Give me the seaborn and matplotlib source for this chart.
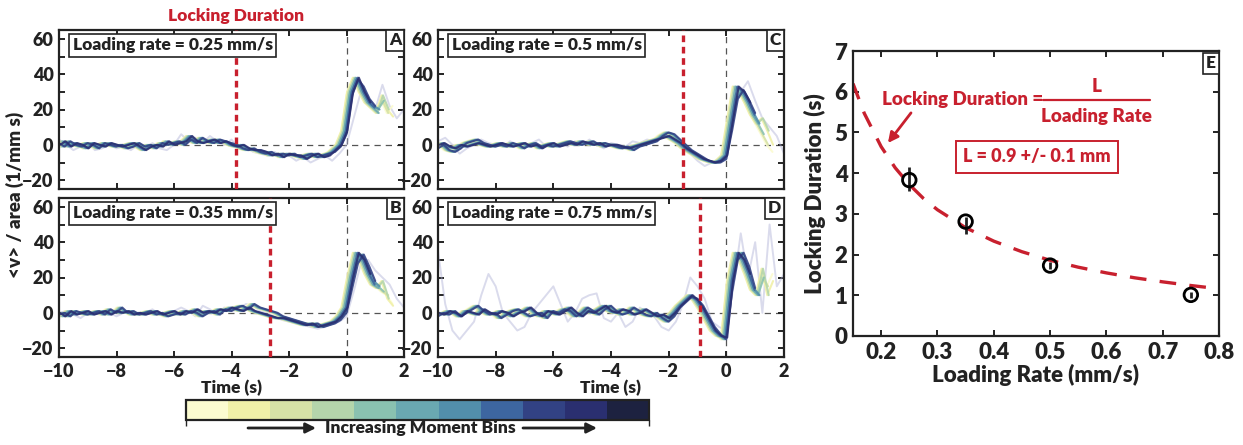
import numpy as np
import pandas as pd
import matplotlib
import matplotlib.pyplot as plt
import seaborn as sns
from matplotlib import font_manager as fm
from matplotlib.colors import ListedColormap, BoundaryNorm
from matplotlib.cm import ScalarMappable
from matplotlib.transforms import blended_transform_factory

# ---------------- data ----------------
bin_colors = ["#fbfbd0", "#f0f0a8", "#d6e2a6", "#b4d5ab", "#8ac1b0", "#6aa8b1",
              "#528eab", "#3d66a0", "#324284", "#2a2f70", "#1d2240"]
line_bins = 10  # darkest bin has no trace drawn
bin_shift = [-0.2, -0.18, -0.15, -0.13, -0.1, -0.08, -0.05, -0.02, 0.0, 0.03]
bin_end = [1.8, 1.7, 1.6, 1.5, 1.4, 1.3, 1.2, 1.1, 1.0, 0.95]

time_fine = np.round(np.arange(-10.0, 1.81, 0.2), 2)     # 60 samples
time_faint = np.round(np.arange(-10.0, 2.01, 0.25), 2)   # 49 samples

panel_labels = ["A", "B", "C", "D"]
loading_rates = ["0.25", "0.35", "0.5", "0.75"]
lock_lines = [-3.85, -2.65, -1.5, -0.9]

a_main = [1, -1, 2, 0, -1, 1, 0, -2, 1, 0, -1,
          0, -2, -1, 1, -1, 0, -2, 1, 0, 1,
          2, 0, 3, 1, 4, 2, 1, 3, 2, 1,
          0, -2, -3, -2, -4, -5, -4, -6, -5, -6,
          -5, -7, -6, -5, -7, -6, -5, -4, -1, 6,
          28, 37, 33, 26, 22, 20, 25, 18, 22]
a_alt = [0, 2, -1, 1, 0, -2, 1, 0, -1, 1, 0,
         -1, 0, 1, -1, -3, -1, 0, -1, 2, 0,
         1, 2, 5, 2, 1, 2, 3, 1, 2, 0,
         -1, 0, -2, -3, -3, -4, -6, -5, -7, -5,
         -6, -6, -8, -6, -5, -7, -6, -3, 0, 8,
         30, 38, 30, 24, 21, 18, 28, 20, 16]
b_main = [-1, 0, -2, 1, 0, -1, 0, 1, -1, 2, 0,
          3, 0, 1, -1, 0, 1, -1, 0, -2, -1,
          0, -1, 1, 0, -2, 0, 1, -1, 2, 1,
          3, 4, 2, 5, 3, 2, 1, 0, -2, -3,
          -4, -5, -6, -7, -6, -8, -7, -6, -4, 0,
          14, 28, 33, 26, 18, 15, 12, 10, 5]
b_alt = [0, -2, 1, -1, 0, 1, -1, 0, 1, -1, 1,
         0, 1, -1, 0, -1, 0, 1, -1, 0, 1,
         -1, 1, 0, 2, 0, 1, 0, 2, 1, 3,
         2, 1, 3, 1, 0, -1, -2, -3, -3, -4,
         -5, -6, -7, -6, -8, -7, -6, -5, -2, 3,
         20, 34, 30, 22, 16, 14, 18, 8, 4]
c_main = [-2, 0, -3, -4, -2, 1, 2, 3, 1, 0, -1,
          0, -1, 1, 0, -2, 0, 1, -1, 0, -1,
          0, 1, 2, 1, 0, 1, 2, 0, 1, 0,
          -1, -2, -1, -3, -1, 0, 1, 2, 5, 7,
          6, 3, 0, -3, -5, -7, -9, -10, -10, -8,
          8, 26, 31, 25, 18, 12, 6, 0, -4]
c_alt = [0, 1, -1, -2, 0, -1, 0, 1, 0, -1, 0,
         1, 0, -1, 0, 1, -1, 0, -2, 0, 1,
         -1, 0, 1, 0, 2, 1, 0, 1, -1, 0,
         0, -1, -2, -1, 0, 1, 2, 3, 4, 5,
         3, 1, -2, -4, -6, -8, -9, -10, -9, -6,
         14, 33, 30, 24, 17, 12, 15, 8, 0]
d_main = [-2, 0, -1, 1, -2, 0, 2, 4, 1, -1, 0,
          -3, -1, 1, 2, 0, -2, -1, 0, -3, 1,
          0, 2, 1, -2, 0, 3, 1, -1, 2, 4,
          1, -1, 0, 3, 1, -1, -2, 0, -3, -5,
          -2, 3, 6, 9, 8, 4, -2, -8, -12, -15,
          12, 30, 34, 26, 14, 10, 20, 15, 22]
d_alt = [0, -1, 1, 0, -2, 1, 0, -1, 2, 0, -1,
         1, 0, -2, 0, 1, 3, 0, -2, 1, 0,
         -1, 1, 3, 0, -2, 1, 0, 2, 4, 1,
         0, 2, 1, -1, 0, 2, 0, -2, -1, -3,
         0, 4, 7, 10, 7, 2, -4, -10, -13, -14,
         18, 34, 30, 22, 13, 10, 25, 10, 18]

a_faint = [3, 0, -3, -1, 1, -3, -2, 0, -2, -1, -3, 0, -2, 1, -2, -3, 0,
           6, 2, 4, 1, 5, 2, 0, 3, -2, -1, -4, -5, -6, -4, -7, -6,
           -9, -7, -10, -8, -6, -9, -5, 0, 15, 30, 28, 20, 34, 22, 15, 20]
b_faint = [0, 1, -1, -3, 0, 1, -1, 0, -2, 0, 1, -1, 0, 2, -1, 0, 1,
           3, 1, -2, 4, 2, -1, 3, 1, 2, 5, 4, 1, 0, -2, -4, -5,
           -6, -7, -8, -9, -8, -6, -5, -2, 12, 28, 30, 24, 20, 16, 8, 3]
c_faint = [2, 4, 0, -5, -2, 0, 3, 1, 0, -1, 2, 0, -2, 1, 3, -1, 0,
           1, -1, 2, 0, 3, 0, -2, 1, 0, -1, 2, 1, 3, 2, 5, 4,
           2, -2, -5, -9, -12, -10, -8, 0, 20, 30, 36, 25, 15, 10, 5, -5]
d_faint = [35, 5, -10, -15, -10, -5, 10, 22, 15, 0, -5, -10, -8, 0, 5, 10, 15,
           5, -5, 0, 8, 10, 11, -3, -5, 0, -8, -5, 3, 0, -2, -8, -10,
           -5, 5, 20, 15, 8, -5, -8, -10, 15, 45, 20, 40, 0, 50, 15, 22]

main_curves = [a_main, b_main, c_main, d_main]
alt_curves = [a_alt, b_alt, c_alt, d_alt]
faint_curves = [a_faint, b_faint, c_faint, d_faint]

# panel E
rate = [0.25, 0.35, 0.5, 0.75]
lock_dur = [3.83, 2.81, 1.73, 1.01]
lock_err_lo = [0.28, 0.3, 0.08, 0.07]
lock_err_hi = [0.33, 0.12, 0.08, 0.07]
fit_rate = [0.15, 0.17, 0.2, 0.225, 0.25, 0.275, 0.3, 0.35, 0.4, 0.45,
            0.5, 0.55, 0.6, 0.65, 0.7, 0.75, 0.8]
fit_dur = [6.2, 5.47, 4.65, 4.13, 3.72, 3.38, 3.1, 2.66, 2.33, 2.07,
           1.86, 1.69, 1.55, 1.43, 1.33, 1.24, 1.16]


def font_weights(name):
    out = set()
    for f in fm.fontManager.ttflist:
        if f.name == name:
            w = f.weight
            if isinstance(w, str):
                w = fm.weight_dict.get(w, 400)
            out.add(int(w))
    return out


# ---------------- style ----------------
sns.set_theme(style="ticks")
font_name = next((n for n in ["Lato", "Noto Sans", "Open Sans", "Roboto",
                              "Liberation Sans"]
                  if max(font_weights(n), default=0) >= 700), "DejaVu Sans")
heavy = [w for w in font_weights(font_name) if 800 <= w <= 900]
wt = min(heavy) if heavy else "bold"
plt.rcParams["font.family"] = [font_name, "DejaVu Sans"]
plt.rcParams["font.weight"] = wt
plt.rcParams["axes.labelweight"] = wt
fs = 12.5 if font_name == "Lato" else 11.5
ink = "#222222"
red = "#c8202e"

W, H = 1243, 445
fig = plt.figure(figsize=(W / 100, H / 100), dpi=100)


def px_axes(l, t, r, b):
    return fig.add_axes([l / W, 1 - b / H, (r - l) / W, (b - t) / H])


def style_axes(ax, size):
    for s in ax.spines.values():
        s.set_linewidth(1.6)
        s.set_color(ink)
    ax.tick_params(direction="in", top=True, right=True, width=1.4, length=4,
                   labelsize=size, colors=ink, pad=4)
    ax.tick_params(which="minor", direction="in", top=True, right=True,
                   width=1.4, length=4)


boxes = [(59, 30, 404, 189), (59, 198, 404, 357),
         (438, 30, 784, 189), (438, 198, 784, 357)]

for i, box in enumerate(boxes):
    ax = px_axes(*box)
    rows = []
    for b in range(line_bins):
        base = main_curves[i] if b % 2 == 0 else alt_curves[i]
        for t, v in zip(time_fine, base):
            tt = t + bin_shift[b]
            if -10 <= tt <= bin_end[b]:
                rows.append((tt, v, b))
    df = pd.DataFrame(rows, columns=["time", "value", "bin"])

    faint = pd.DataFrame({"time": time_faint, "value": faint_curves[i]})
    sns.lineplot(data=faint, x="time", y="value", color="#aeb0d6", alpha=0.45,
                 lw=1.4, ax=ax, estimator=None)
    sns.lineplot(data=df, x="time", y="value", hue="bin",
                 palette=bin_colors[:line_bins], lw=1.5, alpha=0.9, ax=ax,
                 estimator=None, legend=False, sort=False)

    ax.axhline(0, color="#555555", lw=0.9, ls=(0, (5, 4)), zorder=0)
    ax.axvline(0, color="#555555", lw=0.9, ls=(0, (5, 4)), zorder=0)
    ax.axvline(lock_lines[i], color=red, lw=2.4, ls=(0, (2.0, 1.4)), zorder=5)

    ax.set_xlim(-10, 2)
    ax.set_ylim(-25, 65)
    ax.set_xticks(np.arange(-10, 3, 2))
    ax.set_yticks([-20, 0, 20, 40, 60])
    ax.set_yticks([-10, 10, 30, 50], minor=True)
    style_axes(ax, fs + 0.5)
    ax.set_ylabel("")
    if i in (0, 2):
        ax.set_xticklabels([])
        ax.set_xlabel("")
    else:
        ax.set_xlabel("Time (s)", fontsize=fs, labelpad=0, color=ink)

    ax.text(0.04, 0.955, f"Loading rate = {loading_rates[i]} mm/s",
            transform=ax.transAxes, ha="left", va="top", fontsize=fs,
            fontweight=wt, color=ink, zorder=10,
            bbox=dict(boxstyle="square,pad=0.2", fc="white", ec=ink, lw=1.2))
    ax.text(0.992, 0.985, panel_labels[i], transform=ax.transAxes, ha="right",
            va="top", fontsize=fs, fontweight=wt, color=ink, zorder=10,
            bbox=dict(boxstyle="square,pad=0.15", fc="white", ec=ink, lw=1.2))
    if i == 0:
        trans = blended_transform_factory(ax.transData, ax.transAxes)
        ax.text(lock_lines[0], 1.085, "Locking Duration", transform=trans,
                ha="center", va="center", fontsize=fs, fontweight=wt,
                color=red)

fig.text(15 / W, 1 - 195 / H, "<v> / area (1/mm s)", rotation=90,
         ha="center", va="center", fontsize=fs + 1, fontweight=wt, color=ink)

# ---------------- colorbar ----------------
cax = px_axes(186, 400, 649, 420)
cmap = ListedColormap(bin_colors)
norm = BoundaryNorm(np.arange(len(bin_colors) + 1), cmap.N)
cb = fig.colorbar(ScalarMappable(norm=norm, cmap=cmap), cax=cax,
                  orientation="horizontal")
cb.set_ticks(np.arange(1, len(bin_colors)))
cb.set_ticklabels([])
cb.outline.set_linewidth(1.6)
cb.outline.set_edgecolor(ink)
cax.tick_params(direction="in", length=4, width=1.2, colors=ink)

yf = 1 - 428 / H
fig.text(420 / W, yf, "Increasing Moment Bins", ha="center", va="center",
         fontsize=fs, fontweight=wt, color=ink)
for x0, x1 in [(248, 316), (523, 597)]:
    cax.annotate("", xy=(x1 / W, yf), xytext=(x0 / W, yf),
                 xycoords="figure fraction", textcoords="figure fraction",
                 annotation_clip=False,
                 arrowprops=dict(arrowstyle="-|>,head_length=0.5,head_width=0.25",
                                 lw=2, color=ink, shrinkA=0, shrinkB=0))

# ---------------- panel E ----------------
axE = px_axes(853, 51, 1219, 336)
fit = pd.DataFrame({"rate": fit_rate, "dur": fit_dur})
sns.lineplot(data=fit, x="rate", y="dur", color=red, lw=2.4, ax=axE,
             estimator=None)
axE.lines[-1].set_dashes((5, 4))
axE.errorbar(rate, lock_dur, yerr=[lock_err_lo, lock_err_hi], fmt="none",
             ecolor=ink, elinewidth=2, capsize=0, zorder=4)
pts = pd.DataFrame({"rate": rate, "dur": lock_dur})
sns.scatterplot(data=pts, x="rate", y="dur", s=95, facecolor="none",
                edgecolor="black", linewidth=2, ax=axE, zorder=5)
axE.set_xlim(0.15, 0.8)
axE.set_ylim(0, 7)
axE.set_xticks(np.arange(0.2, 0.81, 0.1))
axE.set_yticks(range(0, 8))
style_axes(axE, fs + 3.5)
axE.set_xlabel("Loading Rate (mm/s)", fontsize=fs + 3.5, labelpad=1, color=ink)
axE.set_ylabel("Locking Duration (s)", fontsize=fs + 3.5, labelpad=6, color=ink)
axE.text(0.992, 0.985, "E", transform=axE.transAxes, ha="right", va="top",
         fontsize=fs, fontweight=wt, color=ink,
         bbox=dict(boxstyle="square,pad=0.15", fc="white", ec=ink, lw=1.2))

axE.text(0.2015, 5.8, "Locking Duration =", ha="left", va="center",
         fontsize=fs + 1, fontweight=wt, color=red)
axE.text(0.582, 6.14, "L", ha="center", va="center", fontsize=fs + 1,
         fontweight=wt, color=red)
axE.plot([0.487, 0.677], [5.79, 5.79], color=red, lw=1.6)
axE.text(0.582, 5.4, "Loading Rate", ha="center", va="center", fontsize=fs + 1,
         fontweight=wt, color=red)
axE.annotate("", xy=(0.212, 4.74), xytext=(0.253, 5.48),
             arrowprops=dict(arrowstyle="-|>,head_length=0.5,head_width=0.25",
                             lw=2, color=red, shrinkA=0, shrinkB=0))
axE.text(0.477, 4.4, "L = 0.9 +/- 0.1 mm", ha="center", va="center",
         fontsize=fs + 0.5, fontweight=wt, color=red,
         bbox=dict(boxstyle="square,pad=0.4", fc="white", ec=red, lw=1.4))

fig.savefig("out.png", dpi=100)
